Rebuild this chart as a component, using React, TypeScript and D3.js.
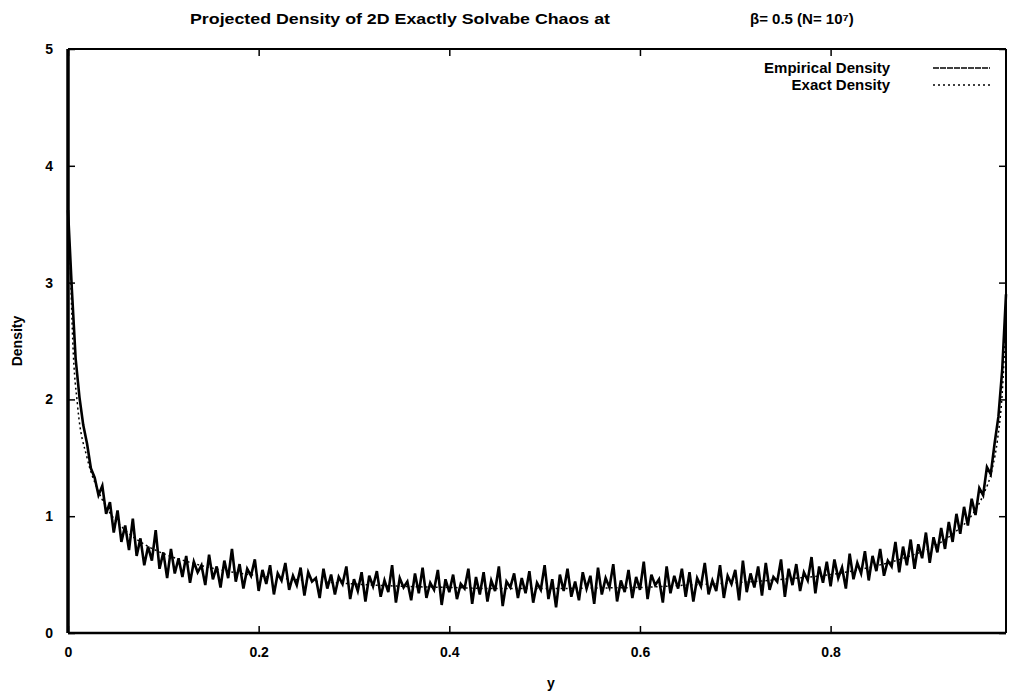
import React, { useEffect, useRef } from 'react'
import * as d3 from 'd3'

// histogram bins, width 0.004, first bin at y = 0
const binWidth = 0.004
const empirical = [
  3.62, 2.95, 2.35, 2.02, 1.78, 1.62, 1.41, 1.33, 1.18, 1.26,
  1.02, 1.12, 0.86, 1.05, 0.78, 0.92, 0.71, 0.98, 0.66, 0.81,
  0.58, 0.74, 0.62, 0.88, 0.55, 0.69, 0.47, 0.72, 0.51, 0.64,
  0.48, 0.66, 0.43, 0.61, 0.52, 0.58, 0.41, 0.67, 0.46, 0.57,
  0.39, 0.62, 0.47, 0.72, 0.44, 0.59, 0.38, 0.55, 0.49, 0.63,
  0.36, 0.54, 0.42, 0.58, 0.33, 0.51, 0.45, 0.60, 0.37, 0.49,
  0.41, 0.56, 0.32, 0.52, 0.44, 0.47, 0.30, 0.55, 0.38, 0.50,
  0.33, 0.48, 0.42, 0.57, 0.29, 0.46, 0.36, 0.52, 0.27, 0.49,
  0.40, 0.53, 0.31, 0.45, 0.35, 0.58, 0.26, 0.47, 0.39, 0.44,
  0.28, 0.51, 0.34, 0.56, 0.30, 0.43, 0.37, 0.54, 0.24, 0.46,
  0.35, 0.50, 0.29, 0.42, 0.38, 0.55, 0.25, 0.48, 0.33, 0.52,
  0.27, 0.45, 0.36, 0.57, 0.23, 0.44, 0.39, 0.51, 0.30, 0.47,
  0.34, 0.53, 0.26, 0.43, 0.37, 0.58, 0.29, 0.46, 0.22, 0.50,
  0.36, 0.55, 0.31, 0.44, 0.28, 0.52, 0.38, 0.49, 0.25, 0.56,
  0.33, 0.47, 0.39, 0.59, 0.27, 0.45, 0.35, 0.54, 0.30, 0.48,
  0.37, 0.61, 0.29, 0.50, 0.41, 0.46, 0.26, 0.57, 0.34, 0.49,
  0.38, 0.55, 0.31, 0.52, 0.27, 0.47, 0.40, 0.60, 0.33, 0.45,
  0.36, 0.58, 0.30, 0.49, 0.42, 0.54, 0.28, 0.62, 0.35, 0.51,
  0.39, 0.57, 0.32, 0.60, 0.37, 0.48, 0.44, 0.63, 0.31, 0.55,
  0.41, 0.59, 0.36, 0.52, 0.45, 0.65, 0.34, 0.57, 0.43, 0.61,
  0.40, 0.63, 0.47, 0.56, 0.38, 0.68, 0.46, 0.60, 0.51, 0.70,
  0.45, 0.66, 0.53, 0.72, 0.49, 0.62, 0.57, 0.78, 0.52, 0.74,
  0.58, 0.80, 0.55, 0.76, 0.64, 0.86, 0.60, 0.82, 0.69, 0.90,
  0.72, 0.95, 0.78, 1.02, 0.85, 1.08, 0.92, 1.15, 1.01, 1.24,
  1.18, 1.42, 1.36, 1.62, 1.85, 2.25, 2.9
]

const exactX = [0.002, 0.005, 0.01, 0.02, 0.03, 0.04, 0.06, 0.08, 0.1, 0.13, 0.16, 0.2, 0.25, 0.3, 0.35, 0.4, 0.45, 0.5,
  0.55, 0.6, 0.65, 0.7, 0.75, 0.8, 0.84, 0.88, 0.91, 0.93, 0.95, 0.96, 0.97, 0.975, 0.98, 0.984]
const exactY = [3.3, 2.5, 1.95, 1.5, 1.25, 1.08, 0.88, 0.76, 0.68, 0.6, 0.54, 0.49, 0.45, 0.42, 0.4, 0.39, 0.38, 0.38,
  0.385, 0.39, 0.41, 0.43, 0.46, 0.5, 0.56, 0.65, 0.75, 0.86, 1.03, 1.18, 1.42, 1.65, 2.05, 2.7]

const xTicks = [0, 0.2, 0.4, 0.6, 0.8]
const xTickLabels = ['0', '0.2', '0.4', '0.6', '0.8']
const yTicks = [0, 1, 2, 3, 4, 5]
const seriesNames = ['Empirical Density', 'Exact Density']

const W = 1011, H = 696
const font = '"Liberation Sans", Arial, sans-serif'

export default function App() {
  const ref = useRef<SVGSVGElement>(null)

  useEffect(() => {
    const svg = d3.select(ref.current)
    svg.selectAll('*').remove()

    const left = 68, right = 1006, top = 49, bottom = 633
    const x = d3.scaleLinear().domain([0, 0.984]).range([left, right])
    const y = d3.scaleLinear().domain([0, 5]).range([bottom, top])

    svg.append('rect').attr('width', W).attr('height', H).attr('fill', '#fff')

    // title
    svg.append('text').attr('x', 190).attr('y', 24)
      .attr('font-family', font).attr('font-size', 15).attr('font-weight', 'bold')
      .attr('textLength', 420).attr('lengthAdjust', 'spacingAndGlyphs')
      .text('Projected Density of 2D Exactly Solvabe Chaos at')
    svg.append('text').attr('x', 750).attr('y', 24)
      .attr('font-family', font).attr('font-size', 15).attr('font-weight', 'bold')
      .text('β= 0.5 (N= 10⁷)')

    // axes, ticks inward and mirrored
    const fmt = (d: d3.NumberValue, i: number) => xTickLabels[i]
    svg.append('g').attr('transform', `translate(0,${bottom})`)
      .call(d3.axisBottom(x).tickValues(xTicks).tickFormat(fmt).tickSize(-7).tickPadding(14))
    svg.append('g').attr('transform', `translate(0,${top})`)
      .call(d3.axisTop(x).tickValues(xTicks).tickFormat(() => '').tickSize(-7))
    svg.append('g').attr('transform', `translate(${left},0)`)
      .call(d3.axisLeft(y).tickValues(yTicks).tickFormat(d3.format('d')).tickSize(-7).tickPadding(15))
    svg.append('g').attr('transform', `translate(${right},0)`)
      .call(d3.axisRight(y).tickValues(yTicks).tickFormat(() => '').tickSize(-7))
    svg.selectAll('.domain').remove()
    svg.selectAll('.tick line').attr('stroke', '#000').attr('stroke-width', 1.5)
    svg.selectAll('.tick text').attr('font-family', font).attr('font-size', 14)
      .attr('font-weight', 'bold').attr('fill', '#000')

    // frame
    svg.append('line').attr('x1', left).attr('x2', right).attr('y1', top).attr('y2', top).attr('stroke', '#000').attr('stroke-width', 2)
    svg.append('line').attr('x1', left).attr('x2', right).attr('y1', bottom).attr('y2', bottom).attr('stroke', '#000').attr('stroke-width', 2.5)
    svg.append('line').attr('x1', left).attr('x2', left).attr('y1', top).attr('y2', bottom).attr('stroke', '#000').attr('stroke-width', 3.5)
    svg.append('line').attr('x1', right).attr('x2', right).attr('y1', top).attr('y2', bottom).attr('stroke', '#000').attr('stroke-width', 2)

    // axis titles
    svg.append('text').attr('transform', `translate(22,${(top + bottom) / 2}) rotate(-90)`)
      .attr('text-anchor', 'middle').attr('font-family', font).attr('font-size', 14).attr('font-weight', 'bold')
      .text('Density')
    svg.append('text').attr('x', 551).attr('y', 688)
      .attr('text-anchor', 'middle').attr('font-family', font).attr('font-size', 14).attr('font-weight', 'bold')
      .text('y')

    // exact density (dotted)
    svg.append('path').datum(exactX.map((d, i) => [d, exactY[i]] as [number, number]))
      .attr('fill', 'none').attr('stroke', '#000').attr('stroke-width', 1.5).attr('stroke-dasharray', '2,3')
      .attr('d', d3.line<[number, number]>().x(d => x(d[0])).y(d => y(d[1])).curve(d3.curveMonotoneX))

    // empirical density
    svg.append('path').datum(empirical)
      .attr('fill', 'none').attr('stroke', '#000').attr('stroke-width', 2.6)
      .attr('stroke-linejoin', 'miter')
      .attr('d', d3.line<number>().x((d, i) => x(i * binWidth)).y(d => y(d)))

    // legend
    const leg = svg.append('g')
    seriesNames.forEach((name, i) => {
      const ly = 73 + i * 17
      leg.append('text').attr('x', 890).attr('y', ly)
        .attr('text-anchor', 'end').attr('font-family', font).attr('font-size', 15).attr('font-weight', 'bold')
        .text(name)
      leg.append('line').attr('x1', 933).attr('x2', 990).attr('y1', ly - 5).attr('y2', ly - 5)
        .attr('stroke', '#000').attr('stroke-width', 1.5)
        .attr('stroke-dasharray', i === 0 ? '6,1' : '2,3')
    })
  }, [])

  return (
    <div style={{ position: 'absolute', left: 0, top: 0 }}>
      <svg ref={ref} width={W} height={H} style={{ display: 'block' }} />
    </div>
  )
}
